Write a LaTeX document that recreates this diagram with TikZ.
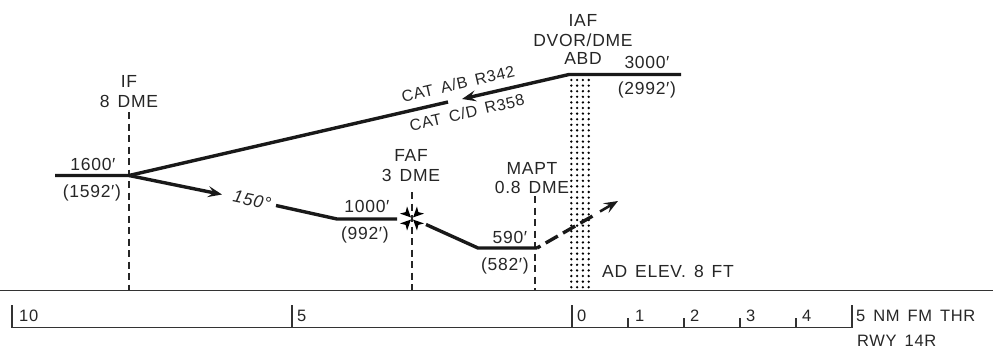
\documentclass[tikz,border=0pt]{standalone}
\usepackage{fontspec}
\setmainfont[LetterSpace=4]{Liberation Sans}
\usetikzlibrary{arrows.meta,calc}
\newcommand\gap{\hspace{8pt}}
\begin{document}
\begin{tikzpicture}[x=1pt,y=-1pt,
  lbl/.style={font=\fontsize{17.5}{19}\selectfont, inner sep=0pt, text=black!85, anchor=base},
  lblw/.style={lbl, anchor=base west},
  sc/.style={font=\fontsize{16.5}{18}\selectfont, inner sep=0pt, text=black!85, anchor=base west},
  cat/.style={font=\fontsize{16}{18}\selectfont, inner sep=0pt, text=black!85, rotate=13},
  track/.style={line width=3.4pt, draw=black!90},
  barb/.style={-{Stealth[length=14pt,width=11pt,inset=5.5pt]}},
  guide/.style={line width=1.3pt, draw=black!85, dash pattern=on 7pt off 4.5pt},
  rule/.style={line width=1.4pt, draw=black!80},
  dot/.style={fill=black}]
\useasboundingbox (0,0) rectangle (993,349);

% dotted runway column
\foreach \i in {0,...,3}
  \foreach \j in {0,...,37}
    \fill[dot] (571.3+5.8*\i, 80+5.6*\j) circle[radius=1.3pt];

% ground and distance scale
\coordinate (G0) at (0,290.5);
\coordinate (G1) at (993,290.5);
\draw[rule] (G0) -- (G1);
\coordinate (S0) at (12,327.5);
\coordinate (S1) at (852,327.5);
\draw[rule] (S0) -- (S1);
\foreach \x in {12,292,572,852}
  \draw[rule] (\x,305) -- (\x,327.5);
\foreach \x in {628,684,740,796}
  \draw[rule] (\x,318) -- (\x,327.5);

% guide lines
\coordinate (IFt) at (129,112);   \coordinate (IFb) at (129,290);
\coordinate (FAFt) at (412,192);  \coordinate (FAFb) at (412,290);
\coordinate (MAt) at (535,196);   \coordinate (MAb) at (535,290);
\draw[guide] (IFt) -- (IFb);
\draw[guide] (FAFt) -- (FAFb);
\draw[guide] (MAt) -- (MAb);

% tracks
\coordinate (W) at (55,175.5);
\coordinate (IF) at (129,175.5);
\coordinate (Gap) at (448,102);
\coordinate (Tip) at (462,99);
\coordinate (IAF) at (569,74.5);
\coordinate (E) at (681,74.5);
\draw[track] (W) -- (IF) -- (Gap);
\draw[track, barb] (E) -- (IAF) -- (Tip);

\coordinate (H1) at (222,194.5);
\draw[track, barb] (IF) -- (H1);
\coordinate (H2) at (276,205.5);
\coordinate (H3) at (337,219);
\coordinate (FAFw) at (397,219);
\draw[track] (H2) -- (H3) -- (FAFw);

\coordinate (FAF) at (412,218.5);
\foreach \a in {45,135,225,315}
  \fill[black] ($(FAF)+(\a:1.5)$) -- ($(FAF)+(\a:12)+(\a+90:5)$) -- ($(FAF)+(\a:9)$) -- ($(FAF)+(\a:12)+(\a-90:5)$) -- cycle;

\coordinate (FAFe) at (426,224.5);
\coordinate (L1) at (478,248);
\coordinate (MAPT) at (537,248);
\draw[track] (FAFe) -- (L1) -- (MAPT);
\coordinate (M1) at (597,213.5);
\coordinate (M2) at (600,211.5);
\coordinate (MTip) at (618,201);
\draw[track, dash pattern=on 14pt off 6pt, dash phase=10pt] (MAPT) -- (M1);
\draw[line width=2.6pt, draw=black!90, barb] (M2) -- (MTip);

% labels
\node[lbl] (tIF) at (129,87.5) {IF};
\node[lbl] (tIFd) at (129,107.5) {8\gap DME};
\node[lbl] (t1600) at (93,170) {1600′};
\node[lbl] (t1592) at (92,197) {(1592′)};
\node[font=\fontsize{17.5}{19}\selectfont\itshape, inner sep=0pt, text=black!85, rotate=-12] (t150) at (252,200) {150°};
\node[cat] (tAB) at (458,84) {CAT\gap A/B\gap R342};
\node[cat] (tCD) at (467,112.5) {CAT\gap C/D\gap R358};
\node[lbl] (tIAF) at (583,26) {IAF};
\node[lbl] (tDVOR) at (583,46) {DVOR/DME};
\node[lbl] (tABD) at (583,64) {ABD};
\node[lbl] (t3000) at (647,68) {3000′};
\node[lbl] (t2992) at (647,94.5) {(2992′)};
\node[lbl] (tFAF) at (411,161) {FAF};
\node[lbl] (tFAFd) at (411,181) {3\gap DME};
\node[lbl] (t1000) at (367,212.5) {1000′};
\node[lbl] (t992) at (365,239.5) {(992′)};
\node[lbl] (tMAPT) at (532,174) {MAPT};
\node[lbl] (tMAd) at (532,193) {0.8\gap DME};
\node[lbl] (t590) at (510,243) {590′};
\node[lbl] (t582) at (505,270.5) {(582′)};
\node[lblw] (tAD) at (602,277) {AD\gap ELEV.\gap 8\gap FT};

\node[sc] (s10) at (19,321) {10};
\node[sc] (s5) at (297,321) {5};
\node[sc] (s0) at (577,321) {0};
\node[sc] (s1) at (635,321) {1};
\node[sc] (s2) at (690,321) {2};
\node[sc] (s3) at (746,321) {3};
\node[sc] (s4) at (802,321) {4};
\node[sc] (sthr) at (856,321) {5\gap NM\gap FM\gap THR};
\node[sc] (srwy) at (857,346) {RWY\gap 14R};
\end{tikzpicture}
\end{document}
